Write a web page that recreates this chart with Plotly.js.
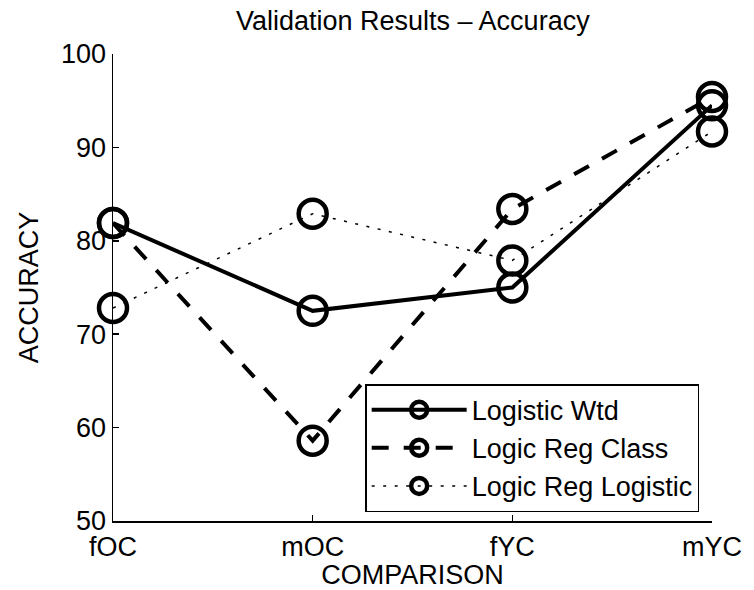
<!DOCTYPE html>
<html>
<head>
<meta charset="utf-8">
<script src="https://cdn.plot.ly/plotly-3.0.1.min.js"></script>
<style>html,body{margin:0;padding:0;background:#fff;}#chart{width:754px;height:590px;}</style>
</head>
<body>
<div id="chart"></div>
<script>
const categories = ["fOC", "mOC", "fYC", "mYC"];
const seriesNames = ["Logistic Wtd", "Logic Reg Class", "Logic Reg Logistic"];
const logisticWtd = [81.9, 72.5, 75.0, 94.5];
const logicRegClass = [81.9, 58.6, 83.4, 95.4];
const logicRegLogistic = [72.8, 82.9, 77.9, 91.7];
const yTicks = [50, 60, 70, 80, 90, 100];

const FONT = "Liberation Sans, Arial, Helvetica, sans-serif";
const FS = 27;

function mk(name, y, width, dash) {
  return {
    type: "scatter",
    mode: "lines+markers",
    name: name,
    x: categories,
    y: y,
    cliponaxis: false,
    line: {color: "#000", width: width, dash: dash},
    marker: {symbol: "circle-open", size: 28, color: "#000", line: {color: "#000", width: 4.5}}
  };
}

const data = [
  mk(seriesNames[0], logisticWtd, 4, "solid"),
  mk(seriesNames[1], logicRegClass, 4, "17px,15px"),
  mk(seriesNames[2], logicRegLogistic, 1.5, "3px,8.5px")
];

const layout = {
  width: 754,
  height: 590,
  paper_bgcolor: "#fff",
  plot_bgcolor: "#fff",
  margin: {l: 113, r: 42, t: 54, b: 69},
  font: {family: FONT, size: FS, color: "#000"},
  title: {text: "Validation Results – Accuracy", font: {family: FONT, size: FS, color: "#000"}, x: 0.5475, xanchor: "center", y: 0.966, yanchor: "middle"},
  showlegend: true,
  legend: {
    x: 0.421, xanchor: "left", y: 0.019, yanchor: "bottom",
    bgcolor: "#fff", bordercolor: "#000", borderwidth: 1.5,
    font: {family: FONT, size: FS, color: "#000"},
    itemwidth: 95,
    tracegroupgap: 0
  },
  xaxis: {
    type: "category",
    range: [0, 3],
    showgrid: false, zeroline: false,
    showline: true, linecolor: "#000", linewidth: 1.5,
    ticks: "inside", ticklen: 6, tickcolor: "#000", tickwidth: 1.5,
    tickfont: {family: FONT, size: FS, color: "#000"},
    ticklabelstandoff: 1,
    title: {text: "COMPARISON", font: {family: FONT, size: FS, color: "#000"}, standoff: 2},
    mirror: false
  },
  yaxis: {
    range: [50, 100],
    tickvals: yTicks,
    showgrid: false, zeroline: false,
    showline: true, linecolor: "#000", linewidth: 1.5,
    ticks: "inside", ticklen: 6, tickcolor: "#000", tickwidth: 1.5,
    tickfont: {family: FONT, size: FS, color: "#000"},
    title: {text: "ACCURACY", font: {family: FONT, size: FS, color: "#000"}, standoff: 14},
    mirror: false
  }
};

Plotly.newPlot("chart", data, layout, {staticPlot: true, displayModeBar: false});
</script>
</body>
</html>
